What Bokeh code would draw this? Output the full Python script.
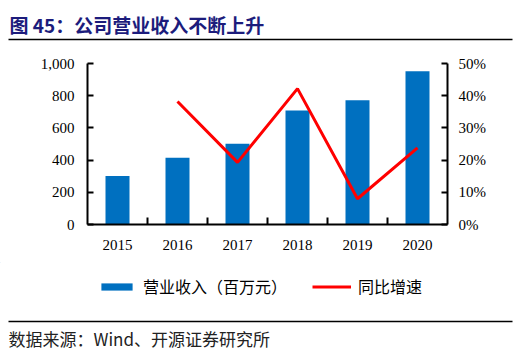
from bokeh.plotting import figure
from bokeh.layouts import column
from bokeh.models import (Range1d, LinearAxis, FixedTicker, NumeralTickFormatter,
                          PrintfTickFormatter, Legend, LegendItem, ColumnDataSource)
from bokeh.core.properties import value
from bokeh.embed import file_html
from bokeh.resources import INLINE

# ---- data ----
years = ["2015", "2016", "2017", "2018", "2019", "2020"]
revenue = [302, 415, 502, 708, 771, 952]          # 百万元
growth_pct = [None, 38.2, 19.3, 42.2, 8.0, 23.8]  # %
left_ticks = [0, 200, 400, 600, 800, 1000]
right_ticks = [0, 10, 20, 30, 40, 50]

title_text = "图 45：公司营业收入不断上升"
source_text = "数据来源：Wind、开源证券研究所"
bar_label = "营业收入（百万元）"
line_label = "同比增速"

# ---- layout constants ----
W = 529
HEAD_H, MAIN_H, LEG_H, FOOT_H = 45, 217, 43, 51

SERIF = "Liberation Serif"
CJK = "Noto Sans CJK SC"
BAR_COLOR = "#0070C0"
LINE_COLOR = "#FF0000"


def blank_fig(h):
    f = figure(width=W, height=h, output_backend="svg", toolbar_location=None,
               x_range=Range1d(0, W), y_range=Range1d(h, 0),
               min_border=0, x_axis_type=None, y_axis_type=None,
               frame_align=False)
    f.outline_line_color = None
    f.xgrid.visible = False
    f.ygrid.visible = False
    f.border_fill_color = "white"
    return f


# ---- header ----
head = blank_fig(HEAD_H)
head.text(x=[9], y=[23.5], text=[title_text], text_font=value(CJK),
          text_font_size="19px", text_font_style="bold", text_color="#1C1C7C",
          text_baseline="middle", text_align="left")
head.segment(x0=[8], y0=[39], x1=[512], y1=[39], line_color="black", line_width=1.5)

# ---- main chart ----
xs = [i + 0.5 for i in range(len(years))]
bar_src = ColumnDataSource(dict(x=xs, top=revenue))
gx = [xs[i] for i, g in enumerate(growth_pct) if g is not None]
gy = [g for g in growth_pct if g is not None]
line_src = ColumnDataSource(dict(x=gx, y=gy))

p = figure(width=W, height=MAIN_H, output_backend="svg", toolbar_location=None,
           x_range=Range1d(0, len(years)), y_range=Range1d(0, 1000),
           min_border_left=87, min_border_right=W - 447,
           min_border_top=18, min_border_bottom=MAIN_H - 179,
           x_axis_type=None, y_axis_type=None, frame_align=False)
p.outline_line_color = None
p.xgrid.visible = False
p.ygrid.visible = False
p.border_fill_color = "white"
p.extra_y_ranges = {"pct": Range1d(0, 50)}

bars = p.vbar(x="x", top="top", width=0.4, source=bar_src,
              fill_color=BAR_COLOR, line_color=None)
line = p.line(x="x", y="y", source=line_src, y_range_name="pct",
              line_color=LINE_COLOR, line_width=3)


def style_axis(ax):
    ax.axis_line_color = "black"
    ax.axis_line_width = 2
    ax.major_tick_line_color = "black"
    ax.major_tick_line_width = 2
    ax.major_label_text_font = SERIF
    ax.major_label_text_font_size = "15px"
    ax.major_label_text_color = "black"


xax = LinearAxis(ticker=FixedTicker(ticks=xs, minor_ticks=[1, 2, 3, 4, 5]))
style_axis(xax)
xax.major_label_overrides = {x: y for x, y in zip(xs, years)}
xax.major_tick_in = 0
xax.major_tick_out = 0
xax.minor_tick_in = 7
xax.minor_tick_out = 0
xax.minor_tick_line_color = "black"
xax.minor_tick_line_width = 2
xax.major_label_standoff = 15
p.add_layout(xax, "below")

lax = LinearAxis(ticker=FixedTicker(ticks=left_ticks),
                 formatter=NumeralTickFormatter(format="0,0"))
style_axis(lax)
lax.major_tick_in = 6
lax.major_tick_out = 0
lax.minor_tick_line_color = None
lax.major_label_standoff = 13
p.add_layout(lax, "left")

rax = LinearAxis(y_range_name="pct", ticker=FixedTicker(ticks=right_ticks),
                 formatter=PrintfTickFormatter(format="%d%%"))
style_axis(rax)
rax.major_tick_in = 6
rax.major_tick_out = 0
rax.minor_tick_line_color = None
rax.major_label_standoff = 11
p.add_layout(rax, "right")

# ---- legend strip (proxy renderers lie outside the visible range) ----
leg = blank_fig(LEG_H)
leg_bar = leg.vbar(x=[-50], top=[-50], bottom=[-60], width=1,
                   fill_color=BAR_COLOR, line_color=None)
leg_line = leg.line(x=[-60, -50], y=[-50, -50], line_color=LINE_COLOR, line_width=3)
legend = Legend(items=[LegendItem(label=bar_label, renderers=[leg_bar]),
                       LegendItem(label=line_label, renderers=[leg_line])],
                orientation="horizontal", location=(97, 7),
                glyph_width=39, glyph_height=9, label_height=18,
                label_standoff=7, spacing=25, padding=0, margin=0,
                border_line_color=None, background_fill_alpha=0,
                label_text_font=CJK, label_text_font_size="16px",
                label_text_color="black")
leg.add_layout(legend, "center")

# ---- footer ----
foot = blank_fig(FOOT_H)
foot.segment(x0=[8], y0=[16], x1=[512], y1=[16], line_color="black", line_width=1.5)
foot.text(x=[8], y=[33], text=[source_text], text_font=value(CJK),
          text_font_size="17px", text_color="#222222",
          text_baseline="middle", text_align="left")

layout = column(head, p, leg, foot, spacing=0)
open("out.html", "w").write(file_html(layout, INLINE))
